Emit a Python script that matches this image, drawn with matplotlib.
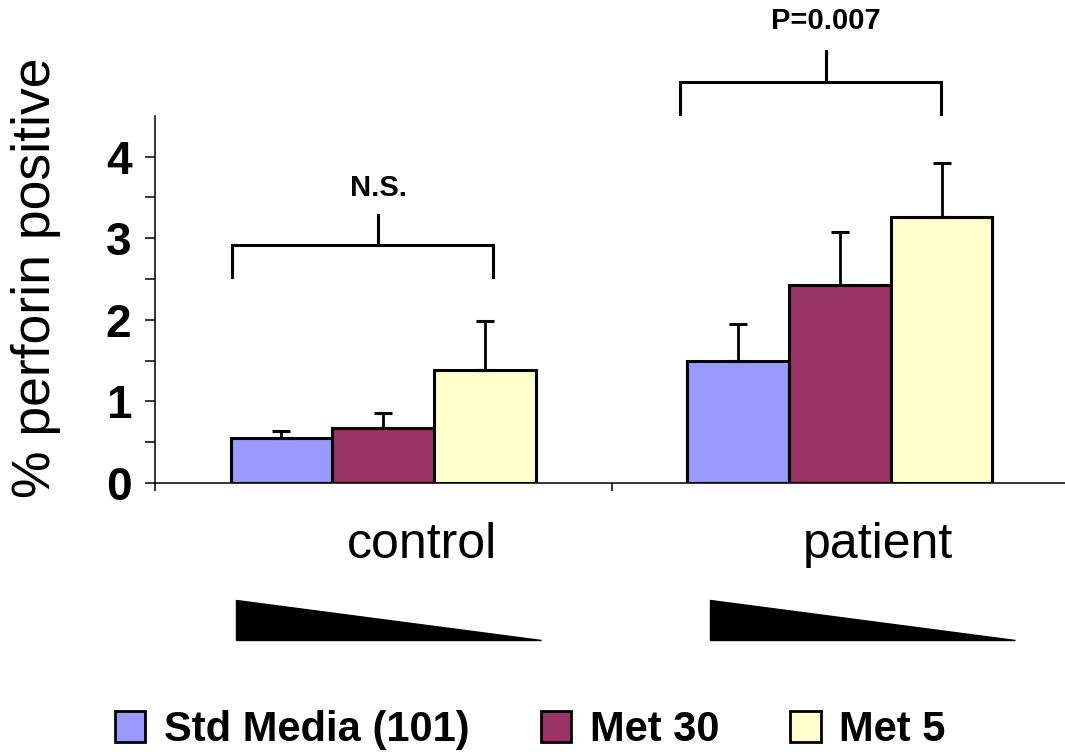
import numpy as np
import matplotlib
matplotlib.use("Agg")
import matplotlib.pyplot as plt
from matplotlib.patches import Patch, Polygon

categories = ["control", "patient"]
series = ["Std Media (101)", "Met 30", "Met 5"]
colors = ["#9999FF", "#993366", "#FFFFCC"]
means = [[0.55, 1.49], [0.67, 2.43], [1.39, 3.26]]
err_up = [[0.09, 0.46], [0.19, 0.65], [0.60, 0.66]]
pvals = ["N.S.", "P=0.007"]

plt.rcParams["font.family"] = ["Liberation Sans", "DejaVu Sans"]

fig = plt.figure(figsize=(10.65, 7.55), dpi=100)
ax = fig.add_axes([155 / 1065, 1 - 483 / 755, 913 / 1065, 367.3 / 755])

x = np.arange(len(categories))
w = 0.223
for i, (s, c) in enumerate(zip(series, colors)):
    xs = x + (i - 1) * w
    ax.bar(xs, means[i], w, color=c, edgecolor="black", linewidth=2.2, zorder=2)
    ax.errorbar(xs, means[i], yerr=[np.zeros(len(x)), err_up[i]], fmt="none",
                ecolor="black", elinewidth=2, capsize=6.5, capthick=2.2, zorder=3)

ax.set_xlim(-0.5, 1.5)
ax.set_ylim(0, 4.5)
ax.set_yticks(np.arange(0, 5, 1))
ax.set_yticks(np.arange(0.5, 4.5, 1), minor=True)
ax.tick_params(axis="y", which="both", direction="out", length=7, width=1.1)
ax.tick_params(axis="y", which="major", labelsize=33, pad=10)
for t in ax.get_yticklabels():
    t.set_fontweight("bold")
ax.set_xticks([-0.5, 0.5, 1.5])
ax.set_xticklabels([])
ax.tick_params(axis="x", direction="out", length=6, width=1.1)
for sp in ["top", "right"]:
    ax.spines[sp].set_visible(False)
for sp in ["left", "bottom"]:
    ax.spines[sp].set_linewidth(1.1)

# y label sits a bit above the axes centre in the original
fig.text(36 / 1065, 1 - 278 / 755, "% perforin positive", rotation=90,
         ha="center", va="center", fontsize=38.5)

# significance brackets
brackets = [(-0.331, 0.240, -0.011, 2.52, 2.91, 3.28, 3.62),
            (0.650, 1.222, 0.970, 4.52, 4.91, 5.29, 5.66)]
for (x0, x1, xm, ylo, ymid, ytop, ytxt), lab in zip(brackets, pvals):
    ax.plot([x0, x0, x1, x1], [ylo, ymid, ymid, ylo], color="black", lw=2.2,
            clip_on=False, solid_joinstyle="miter")
    ax.plot([xm, xm], [ymid, ytop], color="black", lw=2.2, clip_on=False)
    ax.text(xm, ytxt, lab, ha="center", va="center", fontsize=21,
            fontweight="bold", clip_on=False)

# group labels and dose wedges
for xc, lab in zip([0.085, 1.084], categories):
    ax.text(xc, -0.92, lab, ha="center", va="baseline", fontsize=36, clip_on=False)
for x0, x1 in [(-0.3226, 0.3456), (0.716, 1.384)]:
    ax.add_patch(Polygon([(x0, -1.436), (x0, -1.926), (x1, -1.926)],
                         closed=True, facecolor="black", edgecolor="black",
                         clip_on=False))

handles = [Patch(facecolor=c, edgecolor="black", linewidth=2) for c in colors]
leg = fig.legend(handles, series, loc="center left",
                 bbox_to_anchor=(115 / 1065, 1 - 730 / 755), ncol=3,
                 frameon=False, borderpad=0, borderaxespad=0,
                 handlelength=0.73, handleheight=0.77, handletextpad=0.45,
                 columnspacing=1.7, prop={"size": 30, "weight": "bold"})

fig.savefig("out.png", dpi=100)
